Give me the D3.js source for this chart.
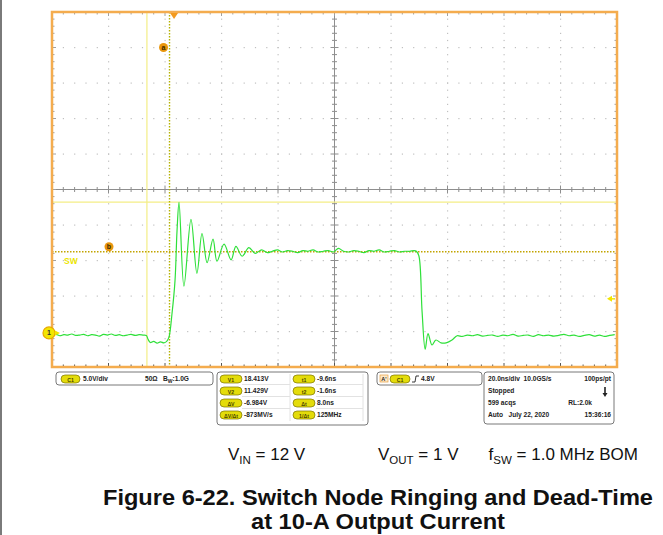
<!DOCTYPE html>
<html>
<head>
<meta charset="utf-8">
<script src="https://cdn.jsdelivr.net/npm/d3@7"></script>
<style>
  body { margin: 0; background: #fff; }
  svg { display: block; font-family: "Liberation Sans", Arial, sans-serif; }
</style>
</head>
<body>
<div id="chart"></div>
<script>
// Switch node waveform, time in ns, voltage in V
var timeNs = [
  -43.2, -41.8, -40.4, -39.0, -37.6, -36.2, -34.8, -33.4, -32.0, -30.6, -29.2, -27.8, -26.4,
  -25.0, -23.6, -22.2, -20.8, -19.4, -18.0, -16.6, -15.2, -13.8, -12.4, -11.0, -9.8,
  -9.2, -8.4, -7.2, -6.0, -4.8, -3.6, -2.6,
  -1.8, -0.7, 0.35, 1.06, 1.77,
  3.5, 6.0, 8.1, 9.9, 11.7, 13.8, 15.2, 17.7, 20.2, 21.9, 24.1, 26.5, 28.7, 31.0, 33.0,
  34.8, 36.6, 38.4, 40.2, 42.0, 43.8, 45.6, 47.4, 49.2, 51.0, 52.8, 54.6, 56.4, 58.2, 60.0,
  61.8, 63.6, 65.4, 67.2, 69.0, 70.8, 72.6, 74.4, 76.2, 78.0, 79.8, 81.6, 83.4, 85.0,
  85.8, 86.7, 87.8, 88.9, 89.9, 91.3, 92.7, 94.5, 96.3, 98.4,
  100.2, 102.0, 103.8, 105.6, 107.4, 109.2, 111.0, 112.8, 114.6, 116.4, 118.2, 120.0, 121.8,
  123.6, 125.4, 127.2, 129.0, 130.8, 132.6, 134.4, 136.2, 138.0, 139.8, 141.6, 143.4, 145.2,
  147.0, 148.8, 150.6, 152.4, 154.2, 156.0
];
var swVolts = [
  -0.35, -0.2, -0.4, -0.25, -0.3, -0.15, -0.35, -0.3, -0.2, -0.4, -0.25, -0.3, -0.45,
  -0.2, -0.3, -0.15, -0.35, -0.25, -0.4, -0.3, -0.2, -0.35, -0.25, -0.3, -0.35,
  -0.9, -1.35, -1.2, -1.45, -1.25, -1.4, -1.2,
  -0.6, 2.8, 7.4, 14.4, 18.4,
  6.6, 16.0, 8.4, 14.0, 9.9, 13.2, 10.1, 12.5, 10.3, 12.2, 10.8, 12.0, 11.2, 11.7, 11.3,
  11.5, 11.7, 11.4, 11.6, 11.5, 11.3, 11.6, 11.5, 11.7, 11.4, 11.5, 11.6, 11.4, 11.9, 11.5,
  11.4, 11.6, 11.5, 11.3, 11.6, 11.5, 11.7, 11.4, 11.5, 11.6, 11.4, 11.5, 11.5, 11.6, 11.5,
  10.8, 3.0, -2.3, -0.1, -1.7, -1.0, -1.4, -1.4, -1.0, -0.4,
  -0.5, -0.3, -0.4, -0.25, -0.45, -0.35, -0.3, -0.5, -0.3, -0.4, -0.2, -0.45, -0.35,
  -0.3, -0.5, -0.25, -0.4, -0.3, -0.45, -0.35, -0.2, -0.4, -0.3, -0.5, -0.35, -0.25,
  -0.45, -0.3, -0.5, -0.35, -0.25, -0.4
];

// Cursors and trigger
var timeCursors = [-9.6, -1.6];     // t1, t2 (ns)
var voltCursors = [18.413, 11.429]; // V1, V2 (V)
var triggerLevel = 4.8;

// Scope settings
var voltsPerDiv = 5.0;
var nsPerDiv = 20.0;
var timeDomain = [-43.2, 156.8];
var voltDomain = [-4.8, 45.2];

var statusRows = [
  ['20.0ns/div  10.0GS/s', '100ps/pt'],
  ['Stopped', ''],
  ['599 acqs', 'RL:2.0k'],
  ['Auto   July 22, 2020', '15:36:16']
];

var width = 663, height = 535;
var plot = { left: 52, top: 12, right: 617, bottom: 367 };

var svg = d3.select('#chart').append('svg')
  .attr('width', width)
  .attr('height', height);

// page edge on the left
svg.append('rect').attr('x', 0).attr('y', 0).attr('width', 2).attr('height', height).attr('fill', '#7a7a7a');

var x = d3.scaleLinear().domain(timeDomain).range([plot.left, plot.right]);
var y = d3.scaleLinear().domain(voltDomain).range([plot.bottom, plot.top]);

var divW = (plot.right - plot.left) / 10,
    divH = (plot.bottom - plot.top) / 10;

var grid = svg.append('g').attr('class', 'grid');

// dotted graticule
d3.range(1, 10).forEach(function(i) {
  if (i === 5) return;
  var gx = plot.left + i * divW;
  d3.range(1, 50).forEach(function(j) {
    grid.append('rect').attr('x', gx - 0.5).attr('y', plot.top + j * divH / 5 - 0.5)
      .attr('width', 1.2).attr('height', 1.2).attr('fill', '#c0c0c0');
  });
  var gy = plot.top + i * divH;
  d3.range(1, 50).forEach(function(j) {
    grid.append('rect').attr('x', plot.left + j * divW / 5 - 0.5).attr('y', gy - 0.5)
      .attr('width', 1.2).attr('height', 1.2).attr('fill', '#c0c0c0');
  });
});

// center cross with minor ticks
var cx = plot.left + 5 * divW, cy = plot.top + 5 * divH;
grid.append('line').attr('x1', cx).attr('x2', cx).attr('y1', plot.top).attr('y2', plot.bottom)
  .attr('stroke', '#8e8e8e').attr('stroke-width', 1);
grid.append('line').attr('x1', plot.left).attr('x2', plot.right).attr('y1', cy).attr('y2', cy)
  .attr('stroke', '#8e8e8e').attr('stroke-width', 1);

d3.range(1, 50).forEach(function(j) {
  var tx = plot.left + j * divW / 5, ty = plot.top + j * divH / 5;
  var len = (j % 5 === 0) ? 4 : 2.5;
  grid.append('line').attr('x1', tx).attr('x2', tx).attr('y1', cy - len).attr('y2', cy + len)
    .attr('stroke', '#8e8e8e');
  grid.append('line').attr('x1', cx - len).attr('x2', cx + len).attr('y1', ty).attr('y2', ty)
    .attr('stroke', '#8e8e8e');
  // edge ticks
  grid.append('line').attr('x1', tx).attr('x2', tx).attr('y1', plot.top).attr('y2', plot.top + len)
    .attr('stroke', '#a0a0a0');
  grid.append('line').attr('x1', tx).attr('x2', tx).attr('y1', plot.bottom - len).attr('y2', plot.bottom)
    .attr('stroke', '#555');
  grid.append('line').attr('x1', plot.left).attr('x2', plot.left + len).attr('y1', ty).attr('y2', ty)
    .attr('stroke', '#a0a0a0');
  grid.append('line').attr('x1', plot.right - len).attr('x2', plot.right).attr('y1', ty).attr('y2', ty)
    .attr('stroke', '#a0a0a0');
});

// cursors: solid ones for t1 / V1, dotted for t2 / V2
svg.append('line').attr('x1', x(timeCursors[0])).attr('x2', x(timeCursors[0]))
  .attr('y1', plot.top).attr('y2', plot.bottom).attr('stroke', '#f4ee86').attr('stroke-width', 1.2);
svg.append('line').attr('x1', plot.left).attr('x2', plot.right)
  .attr('y1', y(voltCursors[0])).attr('y2', y(voltCursors[0])).attr('stroke', '#f4ee86').attr('stroke-width', 1.2);
svg.append('line').attr('x1', x(timeCursors[1])).attr('x2', x(timeCursors[1]))
  .attr('y1', plot.top).attr('y2', plot.bottom).attr('stroke', '#b5b200')
  .attr('stroke-width', 1.4).attr('stroke-dasharray', '1.5,1.5');
svg.append('line').attr('x1', plot.left).attr('x2', plot.right)
  .attr('y1', y(voltCursors[1])).attr('y2', y(voltCursors[1])).attr('stroke', '#c2a400')
  .attr('stroke-width', 1.4).attr('stroke-dasharray', '1.5,1.5');

// waveform
var wave = timeNs.map(function(t, i) { return [t, swVolts[i]]; });
svg.append('clipPath').attr('id', 'plot-clip').append('rect')
  .attr('x', plot.left).attr('y', plot.top)
  .attr('width', plot.right - plot.left).attr('height', plot.bottom - plot.top);
svg.append('path')
  .datum(wave)
  .attr('clip-path', 'url(#plot-clip)')
  .attr('fill', 'none')
  .attr('stroke', '#2fe03a')
  .attr('stroke-width', 1.2)
  .attr('d', d3.line()
    .x(function(d) { return x(d[0]); })
    .y(function(d) { return y(d[1]); })
    .curve(d3.curveCatmullRom.alpha(0.5)));

// frame
svg.append('rect').attr('x', plot.left).attr('y', plot.top)
  .attr('width', plot.right - plot.left).attr('height', plot.bottom - plot.top)
  .attr('fill', 'none').attr('stroke', '#f4ac4e').attr('stroke-width', 2.5);

// trigger position marker (t = 0)
var tx0 = x(0);
svg.append('path').attr('d', 'M' + (tx0 - 4) + ',' + (plot.top + 1) + 'L' + (tx0 + 4) + ',' + (plot.top + 1) + 'L' + tx0 + ',' + (plot.top + 7) + 'Z')
  .attr('fill', '#f39a1e');

// cursor labels a / b
function badge(bx, by, label) {
  svg.append('circle').attr('cx', bx).attr('cy', by).attr('r', 4.5).attr('fill', '#e9960c');
  svg.append('text').attr('x', bx).attr('y', by + 2.5).attr('text-anchor', 'middle')
    .attr('font-size', 7).attr('font-weight', 'bold').attr('fill', '#3a2a00').text(label);
}
badge(x(timeCursors[1]) - 6, plot.top + 1 * divH, 'a');
badge(109, y(voltCursors[1]) - 5, 'b');

// channel label and ground marker
svg.append('text').attr('x', 64).attr('y', y(voltCursors[1]) + 12).attr('font-size', 8.5)
  .attr('font-weight', 'bold').attr('fill', '#ece500').text('SW');
var gy0 = y(0);
svg.append('circle').attr('cx', 49).attr('cy', gy0).attr('r', 6).attr('fill', '#f2e600')
  .attr('stroke', '#e8a800').attr('stroke-width', 1.2);
svg.append('text').attr('x', 49).attr('y', gy0 + 2.5).attr('text-anchor', 'middle')
  .attr('font-size', 7).attr('font-weight', 'bold').attr('fill', '#333').text('1');
svg.append('path').attr('d', 'M55,' + (gy0 - 2.5) + 'L60,' + gy0 + 'L55,' + (gy0 + 2.5) + 'Z').attr('fill', '#f2e600');

// trigger level arrow on the right
var tl = y(triggerLevel);
svg.append('path').attr('d', 'M' + (plot.right - 10) + ',' + tl + 'L' + (plot.right - 5) + ',' + (tl - 3) + 'L' + (plot.right - 5) + ',' + (tl + 3) + 'Z')
  .attr('fill', '#f2e600');
svg.append('line').attr('x1', plot.right - 6).attr('x2', plot.right - 2).attr('y1', tl).attr('y2', tl)
  .attr('stroke', '#f2e600').attr('stroke-width', 1.5);

// readout panels
var info = svg.append('g').attr('font-size', 6.6).attr('font-weight', 'bold').attr('fill', '#222');

function panel(px, py, pw, ph) {
  info.append('rect').attr('x', px).attr('y', py).attr('width', pw).attr('height', ph).attr('rx', 3)
    .attr('fill', '#fff').attr('stroke', '#6a6a6a').attr('stroke-width', 0.9);
}
function pill(px, py, pw, label) {
  info.append('rect').attr('x', px).attr('y', py - 6).attr('width', pw).attr('height', 8).attr('rx', 4)
    .attr('fill', '#e4dc0a').attr('stroke', '#7d7400').attr('stroke-width', 0.7);
  info.append('text').attr('x', px + pw / 2).attr('y', py + 0.5).attr('text-anchor', 'middle')
    .attr('font-size', 5.2).attr('fill', '#4a4500').text(label);
}
function label(tx, ty, txt, anchor) {
  return info.append('text').attr('x', tx).attr('y', ty).attr('text-anchor', anchor || 'start').text(txt);
}

// channel 1 settings
panel(56, 372, 157, 13);
pill(61, 381, 19, 'C1');
label(83, 381, voltsPerDiv.toFixed(1) + 'V/div');
label(145, 381, '50Ω');
var bw = label(163, 381, 'B');
bw.append('tspan').attr('font-size', 5).attr('dy', 1.5).text('W');
bw.append('tspan').attr('dy', -1.5).text(':1.0G');

// cursor readouts
var dv = voltCursors[1] - voltCursors[0];
var dt = timeCursors[1] - timeCursors[0];
var cursorRows = [
  ['V1', voltCursors[0].toFixed(3) + 'V', 't1', timeCursors[0].toFixed(1) + 'ns'],
  ['V2', voltCursors[1].toFixed(3) + 'V', 't2', timeCursors[1].toFixed(1) + 'ns'],
  ['ΔV', dv.toFixed(3) + 'V', 'Δt', dt.toFixed(1) + 'ns'],
  ['ΔV/Δt', Math.round(dv / dt * 1000) + 'MV/s', '1/Δt', Math.round(1000 / dt) + 'MHz']
];
panel(217, 372, 151, 53);
[384.5, 396.5, 408.5].forEach(function(ly) {
  info.append('line').attr('x1', 242).attr('x2', 290).attr('y1', ly).attr('y2', ly).attr('stroke', '#e2e2e2');
  info.append('line').attr('x1', 316).attr('x2', 363).attr('y1', ly).attr('y2', ly).attr('stroke', '#e2e2e2');
});
[290, 363].forEach(function(lx) {
  info.append('line').attr('x1', lx).attr('x2', lx).attr('y1', 374).attr('y2', 421).attr('stroke', '#e2e2e2');
});
cursorRows.forEach(function(r, i) {
  var ry = 381 + i * 12;
  pill(220, ry, 22, r[0]);
  label(244, ry, r[1]);
  pill(293, ry, 22, r[2]);
  label(317, ry, r[3]);
});

// trigger
panel(377, 372, 105, 13);
info.append('rect').attr('x', 380).attr('y', 375).attr('width', 8).attr('height', 7)
  .attr('fill', '#fde9c8').attr('stroke', '#e8a040').attr('stroke-width', 0.7);
label(384, 381, "A'", 'middle').attr('font-size', 5.5);
pill(390, 381, 20, 'C1');
info.append('path').attr('d', 'M412,382L415,382L416,376L419,376').attr('fill', 'none').attr('stroke', '#222').attr('stroke-width', 0.9);
label(421, 381, triggerLevel.toFixed(1) + 'V');

// acquisition status
panel(484, 372, 130, 52);
statusRows.forEach(function(r, i) {
  var ry = 381 + i * 12;
  label(488, ry, r[0]).attr('xml:space', 'preserve');
  if (r[1]) label(i === 2 ? 592 : 611, ry, r[1], 'end');
});
info.append('path').attr('d', 'M605,387L605,394').attr('stroke', '#222').attr('stroke-width', 1.6);
info.append('path').attr('d', 'M602.5,393L607.5,393L605,397Z').attr('fill', '#222');

// caption
var cap = svg.append('g').attr('font-size', 17).attr('fill', '#111');
function capText(cxp, anchor, main, sub, rest) {
  var t = cap.append('text').attr('x', cxp).attr('y', 460).attr('text-anchor', anchor)
    .attr('xml:space', 'preserve');
  t.append('tspan').text(main);
  t.append('tspan').attr('font-size', 11.5).attr('dy', 4).text(sub);
  t.append('tspan').attr('dy', -4).text(rest);
}
capText(228, 'start', 'V', 'IN', ' = 12 V');
capText(378, 'start', 'V', 'OUT', ' = 1 V');
capText(638, 'end', 'f', 'SW', ' = 1.0 MHz BOM');

svg.append('text').attr('x', 378).attr('y', 505).attr('text-anchor', 'middle')
  .attr('font-size', 22).attr('font-weight', 'bold').attr('fill', '#111')
  .attr('textLength', 550).attr('lengthAdjust', 'spacingAndGlyphs')
  .text('Figure 6-22. Switch Node Ringing and Dead-Time');
svg.append('text').attr('x', 378).attr('y', 529).attr('text-anchor', 'middle')
  .attr('font-size', 22).attr('font-weight', 'bold').attr('fill', '#111')
  .attr('textLength', 254).attr('lengthAdjust', 'spacingAndGlyphs')
  .text('at 10-A Output Current');
</script>
</body>
</html>
